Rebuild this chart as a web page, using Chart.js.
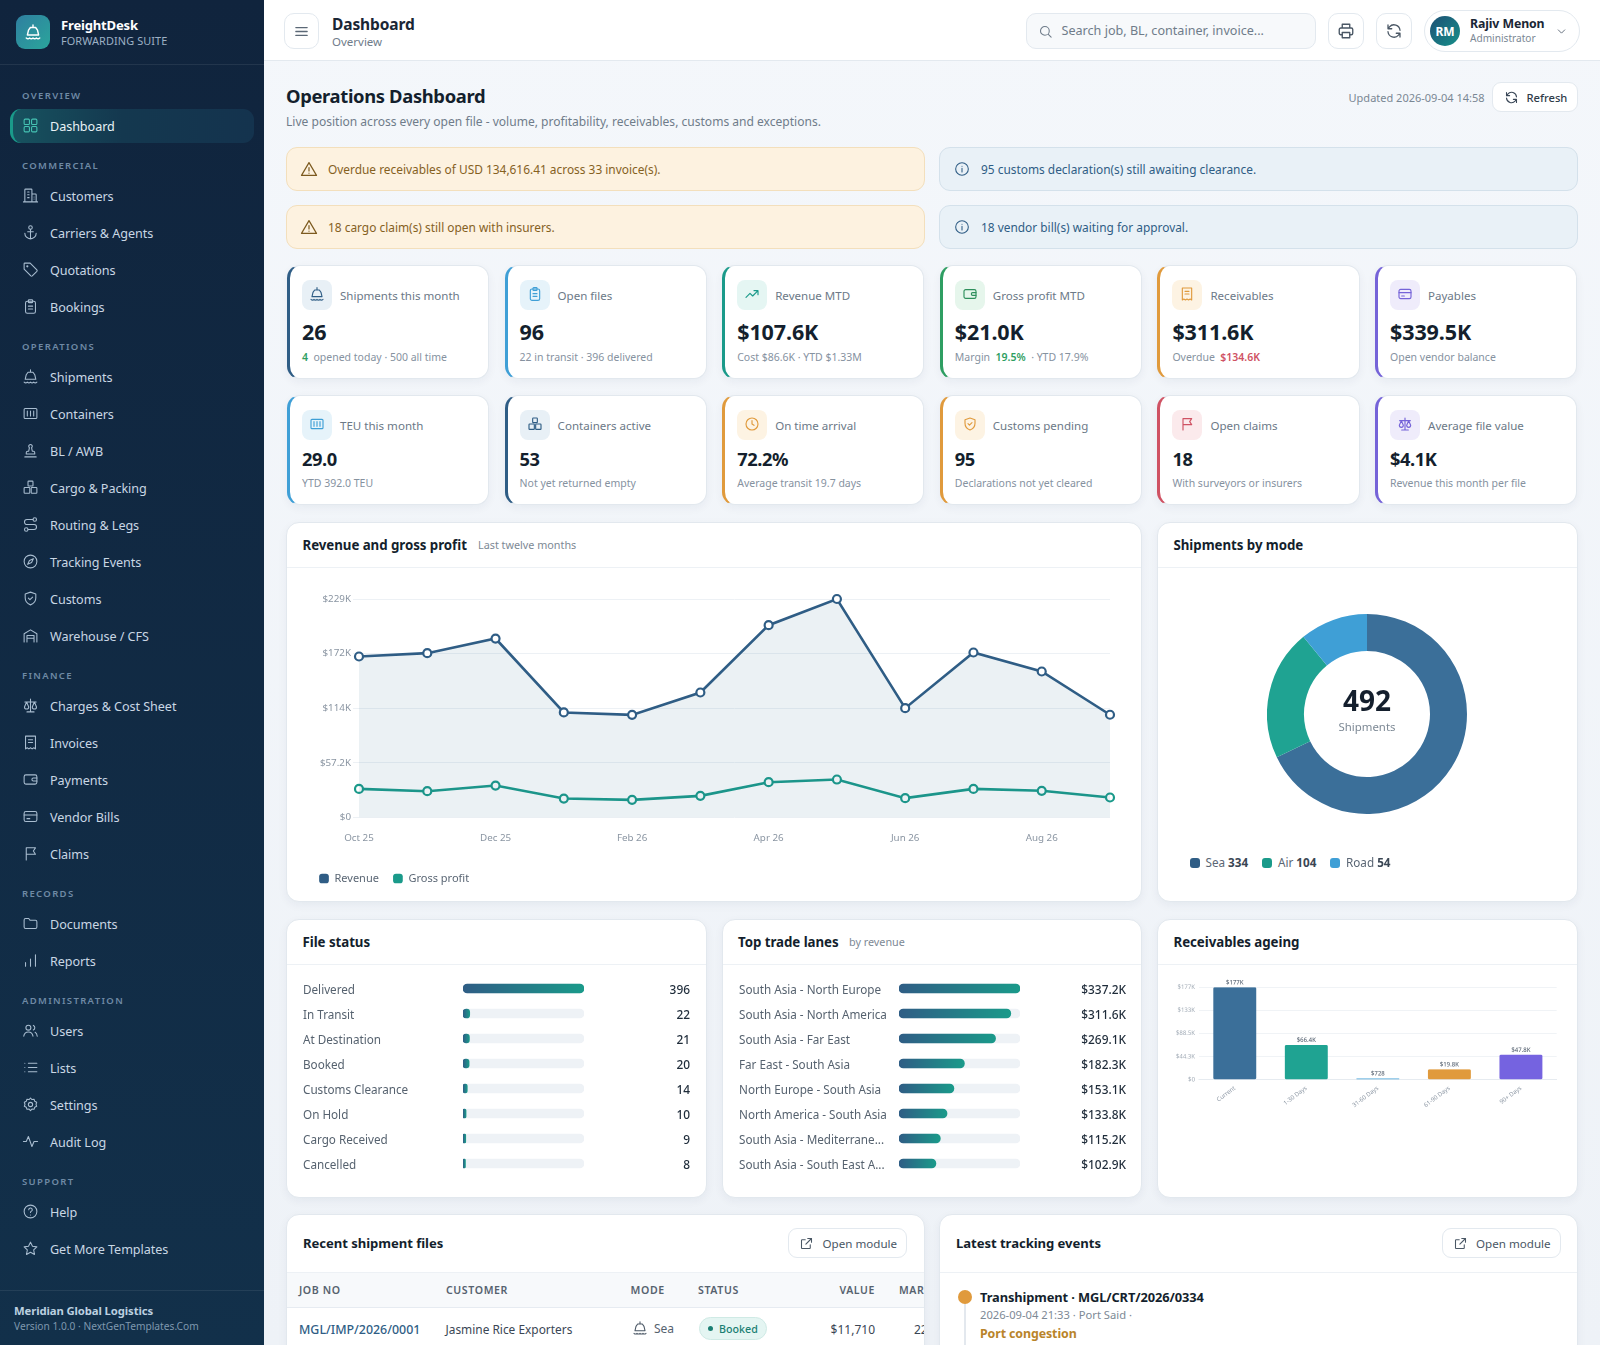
<!DOCTYPE html>
<html><head><meta charset="utf-8"><title>FreightDesk Operations Dashboard</title>
<script src="https://cdn.jsdelivr.net/npm/chart.js@4"></script>
<style>
html,body{margin:0;padding:0;width:1600px;height:1345px;overflow:hidden;background:#f2f5f9;font-family:"Noto Sans",sans-serif;color:#1a2635}
#root{position:absolute;left:0;top:0;width:1600px;height:1345px;overflow:hidden;background:linear-gradient(180deg,#f4f7fb 0,#eef2f7 100%)}
.a{position:absolute;box-sizing:border-box}
.t{position:absolute;white-space:nowrap;line-height:1.3;transform:translateY(-50%)}
canvas{position:absolute;display:block}
svg{display:block}
</style></head><body><div id="root"></div>
<script>
// ---------- chart data ----------
const months = ['Oct 25','Nov 25','Dec 25','Jan 26','Feb 26','Mar 26','Apr 26','May 26','Jun 26','Jul 26','Aug 26','Sep 26'];
const revenueK = [168.6,172.1,187.4,110,107.5,130.9,201.4,228.8,114.5,172.8,152.9,107.6];
const grossProfitK = [30,27.6,33.5,19.9,18.5,22.7,37,39.8,20.3,30,28,21];
const revenueTicks = [0,57.2,114.4,171.6,228.8];
const modeLabels = ['Sea','Air','Road'];
const modeValues = [334,104,54];
const modeColors = ['#3b6f99','#1fa392','#3f9fd6'];
const modeSwatches = ['#2f5d85','#1a9a8a','#3f9fd6'];
const statusLabels = ['Delivered','In Transit','At Destination','Booked','Customs Clearance','On Hold','Cargo Received','Cancelled'];
const statusValues = [396,22,21,20,14,10,9,8];
const laneLabels = ['South Asia - North Europe','South Asia - North America','South Asia - Far East','Far East - South Asia','North Europe - South Asia','North America - South Asia','South Asia - Mediterrane...','South Asia - South East A...'];
const laneValuesK = [337.2,311.6,269.1,182.3,153.1,133.8,115.2,102.9];
const ageLabels = ['Current','1-30 Days','31-60 Days','61-90 Days','90+ Days'];
const ageValuesK = [177,66.4,0.728,19.8,47.8];
const ageTicks = [0,44.3,88.5,133,177];
const ageColors = ['#3b6f99','#1fa392','#3f9fd6','#e09a3c','#7563e0'];

// ---------- page text ----------
const navSections = [
 ['OVERVIEW',[['Dashboard','grid']]],
 ['COMMERCIAL',[['Customers','building'],['Carriers & Agents','anchor'],['Quotations','tag'],['Bookings','clip']]],
 ['OPERATIONS',[['Shipments','ship'],['Containers','container'],['BL / AWB','stamp'],['Cargo & Packing','boxes'],['Routing & Legs','route'],['Tracking Events','compass'],['Customs','shield'],['Warehouse / CFS','warehouse']]],
 ['FINANCE',[['Charges & Cost Sheet','scale'],['Invoices','receipt'],['Payments','wallet'],['Vendor Bills','card'],['Claims','flag']]],
 ['RECORDS',[['Documents','folder'],['Reports','bars']]],
 ['ADMINISTRATION',[['Users','users'],['Lists','list'],['Settings','gear'],['Audit Log','pulse']]],
 ['SUPPORT',[['Help','help'],['Get More Templates','star']]]
];
const kpiRow1 = [
 ['Shipments this month','26','ship','#2f5d85','#e8f0f6','<b style="color:#2e9e62;font-weight:600">4</b>&nbsp; opened today · 500 all time'],
 ['Open files','96','clip','#3f9fd6','#e6f3fa','22 in transit · 396 delivered'],
 ['Revenue MTD','$107.6K','trend','#1a9a8a','#e5f6f3','Cost $86.6K · YTD $1.33M'],
 ['Gross profit MTD','$21.0K','wallet','#2e9e62','#e6f6ec','Margin&nbsp; <b style="color:#2e9e62;font-weight:600">19.5%</b> &nbsp;· YTD 17.9%'],
 ['Receivables','$311.6K','receipt','#e09a3c','#fdf3e3','Overdue&nbsp; <b style="color:#cf5263;font-weight:600">$134.6K</b>'],
 ['Payables','$339.5K','card','#7563d8','#efecfb','Open vendor balance']
];
const kpiRow2 = [
 ['TEU this month','29.0','container','#3f9fd6','#e6f3fa','YTD 392.0 TEU'],
 ['Containers active','53','boxes','#2f5d85','#e8f0f6','Not yet returned empty'],
 ['On time arrival','72.2%','clock','#e09a3c','#fdf3e3','Average transit 19.7 days'],
 ['Customs pending','95','shield','#e09a3c','#fdf3e3','Declarations not yet cleared'],
 ['Open claims','18','flag','#cf5263','#fbeaec','With surveyors or insurers'],
 ['Average file value','$4.1K','scale','#7563d8','#efecfb','Revenue this month per file']
];

const P={
 grid:'<rect x="3" y="3" width="7.5" height="7.5" rx="1.5"/><rect x="13.5" y="3" width="7.5" height="7.5" rx="1.5"/><rect x="3" y="13.5" width="7.5" height="7.5" rx="1.5"/><rect x="13.5" y="13.5" width="7.5" height="7.5" rx="1.5"/>',
 building:'<path d="M4 21V4a1 1 0 0 1 1-1h8a1 1 0 0 1 1 1v17M14 10h5a1 1 0 0 1 1 1v10M2 21h20M8 7h2M8 11h2M8 15h2M17 14h.01M17 17h.01"/>',
 anchor:'<circle cx="12" cy="5" r="2.5"/><path d="M12 7.5V21M8 11h8M4 13c0 4.5 3.5 8 8 8s8-3.500 8-8"/>',
 tag:'<path d="M3 4a1 1 0 0 1 1-1h7.500L21 12.500a1.500 1.500 0 0 1 0 2L14.500 21a1.500 1.500 0 0 1-2 0L3 11.500z"/><circle cx="7.500" cy="7.500" r=".8"/>',
 clip:'<rect x="5" y="4.500" width="14" height="17" rx="2.500"/><rect x="9" y="2.500" width="6" height="4" rx="1"/><path d="M9 11.500h6M9 15.500h6"/>',
 ship:'<path d="M12 2.500v3.500M8.500 6h7l2.500 3.500 1.500 6.500h-15L6 9.500z"/><path d="M3 20c1.500 1.400 3 1.400 4.500 0 1.500 1.400 3 1.400 4.500 0 1.500 1.400 3 1.400 4.500 0 1.500 1.400 3 1.400 4.500 0"/>',
 container:'<rect x="3" y="5" width="18" height="14" rx="1.500"/><path d="M7.500 8.500v7M12 8.500v7M16.500 8.500v7"/>',
 stamp:'<path d="M4 21h16M6 17h12v-2a2 2 0 0 0-2-2h-1.500L13.500 8a2.500 2.500 0 1 0-3 0L9.500 13H8a2 2 0 0 0-2 2z"/>',
 boxes:'<rect x="8.500" y="3" width="7" height="7" rx="1"/><rect x="3" y="12" width="8" height="8" rx="1"/><rect x="13" y="12" width="8" height="8" rx="1"/>',
 route:'<circle cx="6" cy="19" r="2.500"/><circle cx="18" cy="5" r="2.500"/><path d="M8.500 19H17a3.500 3.500 0 0 0 0-7H7a3.500 3.500 0 0 1 0-7h8.500"/>',
 compass:'<circle cx="12" cy="12" r="9"/><path d="M16 8l-2.500 5.500L8 16l2.500-5.500z"/>',
 shield:'<path d="M12 3l7.500 2.500V11c0 5-3.200 8.500-7.500 10-4.300-1.500-7.500-5-7.500-10V5.500z"/><path d="M9 11.500l2.200 2.200L15 10"/>',
 warehouse:'<path d="M3 21V9.500L12 4l9 5.500V21M7 21v-9h10v9M7 16h10"/>',
 scale:'<path d="M12 3v18M7 21h10M4 7h16M6.500 7L3.500 14a3 3 0 0 0 6 0zM17.500 7l-3 7a3 3 0 0 0 6 0z"/>',
 receipt:'<path d="M5 3h14v18l-2.300-1.500L14.300 21 12 19.500 9.700 21l-2.400-1.500L5 21z"/><path d="M9 8h6M9 12h6"/>',
 wallet:'<rect x="3" y="5.500" width="18" height="13" rx="2.500"/><path d="M21 10h-5a2 2 0 0 0 0 4h5"/>',
 card:'<rect x="3" y="5" width="18" height="14" rx="2.500"/><path d="M3 10h18M7 15h4"/>',
 flag:'<path d="M6 21V4h13l-3 4.500 3 4.500H6"/>',
 folder:'<path d="M3 7a2 2 0 0 1 2-2h4.500l2 2.500H19a2 2 0 0 1 2 2V17a2 2 0 0 1-2 2H5a2 2 0 0 1-2-2z"/>',
 bars:'<path d="M5 20v-5M12 20V10M19 20V4"/>',
 users:'<circle cx="9" cy="8" r="3.500"/><path d="M2.500 20c.5-4 3-6 6.500-6s6 2 6.500 6M16 4.800a3.500 3.500 0 0 1 0 6.400M18.500 14.500c1.800.9 2.800 2.800 3 5.500"/>',
 list:'<path d="M9 6h12M9 12h12M9 18h12M4 6h.01M4 12h.01M4 18h.01"/>',
 gear:'<circle cx="12" cy="12" r="3"/><path d="M12 2.800l2 2.200 3-.4 1 2.900 2.700 1.300-.9 2.900.9 2.900-2.700 1.300-1 2.900-3-.4-2 2.200-2-2.200-3 .4-1-2.900-2.700-1.300.9-2.900-.9-2.900 2.700-1.300 1-2.900 3 .4z"/>',
 pulse:'<path d="M2 12h4l3-7 5 14 3-7h5"/>',
 help:'<circle cx="12" cy="12" r="9"/><path d="M9.500 9.500a2.500 2.500 0 1 1 3.500 2.300c-.7.3-1 .9-1 1.700M12 17h.01"/>',
 star:'<path d="M12 3l2.800 5.800 6.200.9-4.500 4.400 1.100 6.300L12 17.400l-5.600 3 1.100-6.300L3 9.700l6.200-.9z"/>',
 trend:'<path d="M3 17l6-6 4 4 8-8M15 7h6v6"/>',
 clock:'<circle cx="12" cy="12" r="9"/><path d="M12 7v5l3 2"/>',
 warn:'<path d="M12 3.500L2 20.500h20zM12 10v4.500M12 17.500h.01"/>',
 info:'<circle cx="12" cy="12" r="9.500"/><path d="M12 11v5.500M12 7.800h.01"/>',
 menu:'<path d="M4 6.500h16M4 12h16M4 17.500h16"/>',
 search:'<circle cx="11" cy="11" r="7"/><path d="M16.500 16.500L21 21"/>',
 printer:'<path d="M7 8V3h10v5M7 17H5a2 2 0 0 1-2-2v-5a2 2 0 0 1 2-2h14a2 2 0 0 1 2 2v5a2 2 0 0 1-2 2h-2"/><rect x="7" y="14" width="10" height="7"/>',
 refresh:'<path d="M20 11a8 8 0 0 0-14-4.500L4 9M4 4v5h5M4 13a8 8 0 0 0 14 4.500l2-2.500M20 20v-5h-5"/>',
 chev:'<path d="M6 9l6 6 6-6"/>',
 open:'<path d="M14 4h6v6M20 4l-9 9M18 14v5a1 1 0 0 1-1 1H5a1 1 0 0 1-1-1V7a1 1 0 0 1 1-1h5"/>'
};
const root=document.getElementById('root');
function box(x,y,w,h,css,html){const d=document.createElement('div');d.className='a';d.style.cssText=`left:${x}px;top:${y}px;width:${w}px;height:${h}px;`+(css||'');if(html)d.innerHTML=html;root.appendChild(d);return d}
function t(x,y,s,css,align,parent){const d=document.createElement('div');d.className='t';let pos=`left:${x}px;`;
 if(align==='r')pos=`right:${1600-x}px;`;
 d.style.cssText=`${pos}top:${y}px;`+(align==='c'?'transform:translate(-50%,-50%);':'')+(css||'');d.innerHTML=s;(parent||root).appendChild(d);return d}
function icon(n,cx,cy,sz,col,sw){return box(cx-sz/2,cy-sz/2,sz,sz,'',`<svg width="${sz}" height="${sz}" viewBox="0 0 24 24" fill="none" stroke="${col}" stroke-width="${sw||1.7}" stroke-linecap="round" stroke-linejoin="round">${P[n]}</svg>`)}
function card(x,y,w,h,css){return box(x,y,w,h,'background:#fff;border:1px solid #e2e8ee;border-radius:13px;box-shadow:0 3px 10px rgba(25,45,75,.05);'+(css||''))}
function fmtK(v){if(v===0)return '$0';if(v<1)return '$'+Math.round(v*1000);return '$'+(v>=100?v.toFixed(0):v.toFixed(1))+'K'}

// ---------- sidebar ----------
box(0,0,264,1345,'background:linear-gradient(180deg,#10243d 0,#12304a 100%)');
box(0,64,264,1,'background:rgba(255,255,255,.08)');
box(16,15,34,34,'border-radius:9px;background:linear-gradient(135deg,#2f7fa0,#2aa59b)');
icon('ship',33,32,18,'#fff',1.9);
t(61,25.8,'FreightDesk','font-size:13.1px;font-weight:700;color:#fff;letter-spacing:-.2px');
t(61,40.5,'FORWARDING SUITE','font-size:10.9px;color:#9db0c4;letter-spacing:.1px');
let ny=95;
navSections.forEach(([sec,items])=>{
 t(22,ny+.6,sec,'font-size:9.5px;font-weight:600;color:#6f8aa5;letter-spacing:1.35px');
 ny+=31;
 items.forEach(([name,ic],i)=>{
  if(name==='Dashboard'){box(10,108.5,243.5,34.5,'border-radius:11px;border-left:3px solid #1a9a8a;background:linear-gradient(90deg,#17525f 0,#14384f 45%,#14334e 100%)')}
  icon(ic,30.5,ny-1,17,name==='Dashboard'?'#46c4b4':'#a9bdd0',1.5);
  t(50,ny+.8,name,`font-size:12.6px;color:${name==='Dashboard'?'#e9f3f6':'#c9d7e4'};letter-spacing:-.05px`);
  if(i<items.length-1)ny+=37;
 });
 ny+=39;
});
box(0,1290,264,1,'background:rgba(255,255,255,.08)');
t(14,1310.5,'Meridian Global Logistics','font-size:11.3px;font-weight:700;color:#bcd0e0;letter-spacing:-.1px');
t(14,1326.5,'Version 1.0.0 · NextGenTemplates.Com','font-size:10.2px;color:#7f98ae');

// ---------- top bar ----------
box(264,0,1336,61,'background:#fff;border-bottom:1px solid #e3e9ef');
const bt='background:#fff;border:1px solid #e3e9ef;border-radius:10px;';
box(284,13,35,36,bt);icon('menu',301.5,31,17,'#5b6876',1.8);
t(332,24,'Dashboard','font-size:15.5px;font-weight:700;color:#1a2635;letter-spacing:-.1px');
t(332,42,'Overview','font-size:11.5px;color:#6f7c8a');
box(1026,13,290,36,'background:#f7f9fb;border:1px solid #e3e9ef;border-radius:10px');
icon('search',1045,31,15,'#6f7c8a',1.7);
t(1061.5,30.5,'Search job, BL, container, invoice...','font-size:12.6px;color:#6f7c8a');
box(1328,13,35.5,36,bt);icon('printer',1346,31,18,'#4a5765',1.8);
box(1376,13,35.5,36,bt);icon('refresh',1394,31,18,'#4a5765',1.7);
box(1424,10,156,42,'background:#fff;border:1px solid #e3e9ef;border-radius:21px');
box(1430,16,30,30,'border-radius:50%;background:linear-gradient(135deg,#1d4f74,#17908a);color:#fff;font-size:12px;font-weight:700;display:flex;align-items:center;justify-content:center','RM');
t(1470,23.5,'Rajiv Menon','font-size:12.3px;font-weight:700;color:#1a2635;letter-spacing:-.1px');
t(1470,38.5,'Administrator','font-size:10.1px;color:#7a8794');
icon('chev',1561.5,31,13,'#5b6876',1.7);

// ---------- page header ----------
t(286,96,'Operations Dashboard','font-size:18.4px;font-weight:700;color:#141f2d;letter-spacing:-.35px');
t(286,121.5,'Live position across every open file - volume, profitability, receivables, customs and exceptions.','font-size:12.05px;color:#6f7c8a');
t(1484.5,97.5,'Updated 2026-09-04 14:58','font-size:11px;color:#7a8794','r');
box(1492,82,86,30,'background:#fff;border:1px solid #e3e9ef;border-radius:9px');
icon('refresh',1511,97,15,'#3a4757',1.7);
t(1526.5,97.5,'Refresh','font-size:11.2px;font-weight:500;color:#2f3b49');

// ---------- alerts ----------
[[286,147,'warn','Overdue receivables of USD 134,616.41 across 33 invoice(s).'],[286,205,'warn','18 cargo claim(s) still open with insurers.'],
 [939,147,'info','95 customs declaration(s) still awaiting clearance.'],[939,205,'info','18 vendor bill(s) waiting for approval.']].forEach(([x,y,k,s])=>{
 const w=k==='warn';
 box(x,y,639,44,`border-radius:11px;background:${w?'#fdf2e0':'#e9f1f7'};border:1px solid ${w?'#f3dfbc':'#d4e1eb'}`);
 icon(k,x+23,y+22,w?18:16,w?'#7c5a1f':'#2f5d85',1.6);
 t(x+42,y+23,s,`font-size:11.9px;color:${w?'#85611f':'#2f5d85'}`);
});

// ---------- KPI cards ----------
function kpis(rows,y,h,vy,vs,vls,sy,ly){rows.forEach(([lab,val,ic,col,bg,sub],i)=>{
 const x=287+217.6*i;
 box(x,y,202.3,h,`background:#fff;border:1px solid #e2e8ee;border-left:3px solid ${col};border-radius:13px;box-shadow:0 3px 10px rgba(25,45,75,.05)`);
 box(x+15,ly-15,30,30,`background:${bg};border-radius:8px`);
 icon(ic,x+30,ly-1,16,col==='#2e9e62'?'#2e8f5c':col,1.7);
 t(x+53,ly,lab,'font-size:11.55px;color:#6c7987');
 t(x+15,vy,val,`font-size:${vs}px;font-weight:700;color:#141f2d;letter-spacing:${vls}px`);
 t(x+15,sy,sub,'font-size:10.5px;color:#86929f');
})}
kpis(kpiRow1,265,113.5,331.5,21.5,-.1,358,295);
kpis(kpiRow2,395,109.5,459,18.3,-.45,484,425);

// ---------- chart cards ----------
function head(x,y,w,title,sub,subx){t(x+16.5,y+24.5,title,'font-size:13.3px;font-weight:700;color:#141f2d;letter-spacing:-.05px');
 if(sub)t(subx,y+23.5,sub,'font-size:10.8px;color:#7d8995');box(x+1,y+45.5,w-2,1,'background:#edf1f5')}
card(286,521.5,856,380.5);head(286,521.5,856,'Revenue and gross profit','Last twelve months',478);
card(1157,521.5,421,380.5);head(1157,521.5,421,'Shipments by mode');
card(286,918.5,420.5,279);head(286,918.5,420.5,'File status');
card(721.5,918.5,420.5,279);head(721.5,918.5,420.5,'Top trade lanes','by revenue',849);
card(1157,918.5,421,279);head(1157,918.5,421,'Receivables ageing');

function canvas(x,y,w,h,lbl){const c=document.createElement('canvas');c.width=w;c.height=h;c.style.cssText=`left:${x}px;top:${y}px;width:${w}px;height:${h}px`;c.setAttribute('aria-label',lbl);c.setAttribute('role','img');root.appendChild(c);return c}
Chart.defaults.font.family='"Noto Sans",sans-serif';
Chart.defaults.animation=false;
Chart.defaults.responsive=false;
Chart.defaults.maintainAspectRatio=false;

const setTicks=list=>scale=>{scale.ticks=list.map(v=>({value:v}))};

// revenue line
new Chart(canvas(303,580,823,318,'Revenue and gross profit'),{type:'line',
 data:{labels:months,datasets:[
  {label:'Revenue',data:revenueK,borderColor:'#2f5d85',backgroundColor:'rgba(47,105,140,.095)',fill:'origin',borderWidth:2.6,tension:0,pointRadius:4,pointBorderWidth:2.2,pointBackgroundColor:'#fff',pointBorderColor:'#2f5d85',clip:false},
  {label:'Gross profit',data:grossProfitK,borderColor:'#1a9a8a',backgroundColor:'#1a9a8a',fill:false,borderWidth:2.6,tension:0,pointRadius:4,pointBorderWidth:2.2,pointBackgroundColor:'#fff',pointBorderColor:'#1a9a8a',clip:false}]},
 options:{layout:{padding:{left:2,right:16,top:19,bottom:4}},
  plugins:{tooltip:{enabled:false},legend:{position:'bottom',align:'start',labels:{usePointStyle:true,pointStyle:'rectRounded',boxHeight:8,boxWidth:10,padding:14,color:'#5a6674',font:{size:11},
    generateLabels:ch=>ch.data.datasets.map((d,i)=>({text:d.label,fillStyle:d.borderColor,strokeStyle:d.borderColor,lineWidth:0,pointStyle:'rectRounded',datasetIndex:i,fontColor:'#5a6674'}))}}},
  scales:{
   x:{afterFit(s){s.height+=7.7},grid:{display:false},border:{display:false},ticks:{maxRotation:0,autoSkip:true,autoSkipPadding:4,color:'#8a95a2',font:{size:9.8},padding:7,callback(v,i){return i%2===0?months[i]:''}}},
   y:{min:0,max:228.8,afterBuildTicks:setTicks(revenueTicks),afterFit(s){s.width=54},grid:{color:'#edf1f5',tickLength:6,lineWidth:1},border:{display:false},ticks:{color:'#8a95a2',font:{size:9.8},padding:2,callback:v=>fmtK(v)}}
  }}});

// donut
new Chart(canvas(1267,614,200,200,'Shipments by mode'),{type:'doughnut',
 data:{labels:modeLabels,datasets:[{data:modeValues,backgroundColor:modeColors,borderWidth:0}]},
 options:{cutout:'63%',layout:{padding:0},plugins:{legend:{display:false},tooltip:{enabled:false}}}});
t(1367,700,String(modeValues.reduce((a,b)=>a+b,0)),'font-size:28px;font-weight:700;color:#141f2d','c');
t(1367,727,'Shipments','font-size:11.4px;color:#7d8995','c');
[[1190,1205.5],[1262,1278],[1330,1346]].forEach(([mx,tx],i)=>{
 box(mx,857.5,10,10,`border-radius:3px;background:${modeSwatches[i]}`);
 t(tx,863,`${modeLabels[i]} <b style="font-weight:700;color:#3a4654">${modeValues[i]}</b>`,'font-size:11.7px;color:#5a6674');
});

// horizontal progress bars
function hbar(cv,labels,values,valueText,leftW,rightW){
 const max=Math.max(...values);
 const noPad=(s,w)=>{s.width=w;s.paddingTop=0;s.paddingBottom=0};
 const grad=ctx=>{const ch=ctx.chart;const xs=ch.scales.x;if(!xs||!ch.chartArea)return '#2f7f8a';
  const x0=xs.getPixelForValue(0),x1=xs.getPixelForValue(ctx.raw);if(!(x1>x0))return '#2f5d85';
  const g=ch.ctx.createLinearGradient(x0,0,x1,0);g.addColorStop(0,'#2f5d85');g.addColorStop(1,'#1a9a8a');return g};
 new Chart(cv,{type:'bar',
  data:{labels,datasets:[
   {data:values,backgroundColor:grad,borderRadius:5,borderSkipped:false,barThickness:9,order:0},
   {data:values.map(()=>max),backgroundColor:'#eef2f6',borderRadius:5,borderSkipped:false,barThickness:9,order:1}]},
  options:{indexAxis:'y',layout:{padding:0},plugins:{legend:{display:false},tooltip:{enabled:false}},
   scales:{
    x:{display:false,min:0,max},
    y:{stacked:true,afterFit(s){noPad(s,leftW)},grid:{display:false,drawTicks:false},border:{display:false},ticks:{autoSkip:false,crossAlign:'far',padding:0,labelOffset:2.3,color:'#56626f',font:{size:11.7}}},
    values:{axis:'y',type:'category',offset:true,position:'right',labels:values.map(valueText),afterFit(s){noPad(s,rightW)},grid:{display:false,drawTicks:false},border:{display:false},ticks:{autoSkip:false,crossAlign:'far',padding:0,labelOffset:2.3,color:'#1f2c3a',font:{size:11.9,weight:'500'}}}
   }}});
}
hbar(canvas(303,975.5,387,200,'File status'),statusLabels,statusValues,v=>String(v),160,106);
hbar(canvas(738.5,975.5,387.5,200,'Top trade lanes'),laneLabels,laneValuesK,v=>'$'+v.toFixed(1)+'K',160,106);

// receivables ageing
const ageLabelPlugin={id:'ageLabels',afterDatasetsDraw(ch){const c=ch.ctx;const m=ch.getDatasetMeta(0);c.save();c.font='500 6px "Noto Sans"';c.fillStyle='#5a6674';c.textAlign='center';c.textBaseline='bottom';
 m.data.forEach((b,i)=>c.fillText(fmtK(ageValuesK[i]),b.x,b.y-1.5));c.restore()}};
new Chart(canvas(1166,970,394,140,'Receivables ageing'),{type:'bar',plugins:[ageLabelPlugin],
 data:{labels:ageLabels,datasets:[{data:ageValuesK,backgroundColor:ageColors,borderRadius:1.5,borderSkipped:false,categoryPercentage:.8,barPercentage:.75,minBarLength:1.2}]},
 options:{devicePixelRatio:2,layout:{padding:{left:0,right:3.3,top:17.3,bottom:0}},plugins:{legend:{display:false},tooltip:{enabled:false}},
  scales:{
   x:{afterFit(s){s.height=30.3},grid:{display:false,drawTicks:false},border:{color:'#e6ebf0',width:1},ticks:{minRotation:37,maxRotation:37,autoSkip:false,color:'#8a95a2',font:{size:6},padding:5}},
   y:{min:0,max:177,afterBuildTicks:setTicks(ageTicks),afterFit(s){s.width=33},grid:{color:'#f0f3f6',drawTicks:false},border:{display:false},ticks:{color:'#a0aab5',font:{size:6},padding:4,callback:v=>fmtK(v)}}
  }}});

// ---------- bottom cards ----------
card(286,1214,639,200);card(939,1214,639,200);
t(303,1243.5,'Recent shipment files','font-size:13.1px;font-weight:700;color:#141f2d;letter-spacing:-.05px');
t(956,1243.5,'Latest tracking events','font-size:13.1px;font-weight:700;color:#141f2d;letter-spacing:-.05px');
[[788,806.5],[1441.5,1460]].forEach(([x,ix])=>{box(x,1228,119,30,'background:#fff;border:1px solid #e3e9ef;border-radius:9px');icon('open',ix,1243,15,'#4a5765',1.7);t(x+34.5,1243.5,'Open module','font-size:11.6px;color:#4a5765')});
box(287,1271.5,637,36,'background:#f7f9fb;border-top:1px solid #edf1f5;border-bottom:1px solid #e6ebf1');
box(940,1271.5,637,1,'background:#edf1f5');
[['JOB NO',299],['CUSTOMER',446],['MODE',630.5],['STATUS',698]].forEach(([s,x])=>t(x,1290.5,s,'font-size:10.6px;font-weight:600;color:#56626f;letter-spacing:.6px'));
t(875,1290.5,'VALUE','font-size:10.5px;font-weight:600;color:#56626f;letter-spacing:.6px','r');
const marClip=box(899,1280,25,20,'overflow:hidden');t(0,10.5,'MARGIN','font-size:10.5px;font-weight:600;color:#56626f;letter-spacing:.6px','',marClip);
t(299,1330,'MGL/IMP/2026/0001','font-size:12.4px;font-weight:500;color:#2f5d85');
t(445.5,1330,'Jasmine Rice Exporters','font-size:11.9px;color:#3a4654');
icon('ship',640,1327.5,16,'#4a5765',1.6);
t(654,1329,'Sea','font-size:12px;color:#56626f');
box(699,1317,68,23,'background:#e4f5f2;border:1px solid #cfeae5;border-radius:12px');
box(708,1326,5,5,'border-radius:50%;background:#1a7f73');
t(719,1329.5,'Booked','font-size:10.7px;font-weight:500;color:#1a7f73');
t(875,1330,'$11,710','font-size:12px;color:#3a4654','r');
const mClip=box(905,1318,19,22,'overflow:hidden');t(9,12,'22.0%','font-size:12px;color:#3a4654','',mClip);
box(964,1304,1.5,45,'background:#e3e8ee');
box(958,1290,14,14,'border-radius:50%;background:#e09a3c');
t(980,1297,'Transhipment · MGL/CRT/2026/0334','font-size:12.85px;font-weight:700;color:#141f2d;letter-spacing:-.1px');
t(980,1315,'2026-09-04 21:33 · Port Said ·','font-size:11.2px;color:#7d8995');
t(980,1334,'Port congestion','font-size:12.4px;font-weight:700;color:#b9842a;letter-spacing:-.1px');
</script></body></html>
